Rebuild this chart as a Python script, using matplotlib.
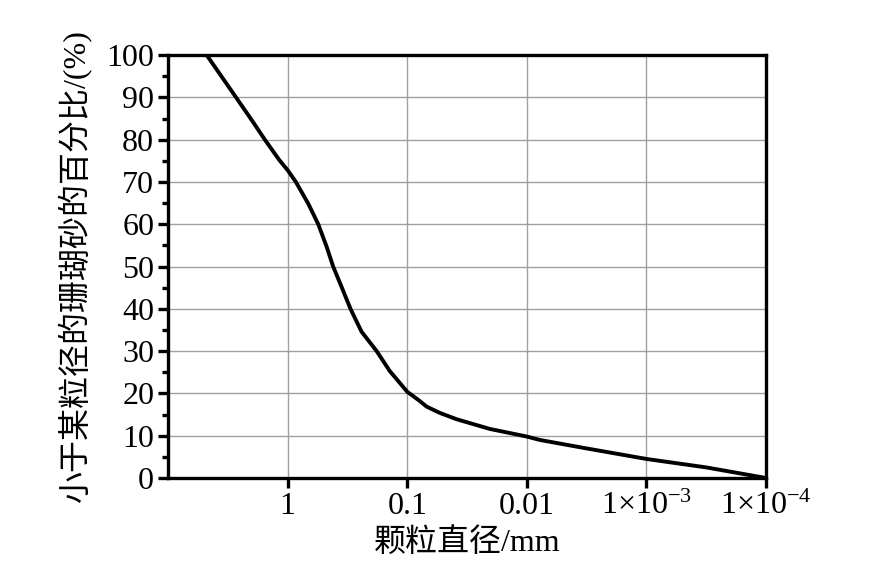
import matplotlib
matplotlib.use("Agg")
import matplotlib.pyplot as plt
from matplotlib.ticker import FixedLocator, MultipleLocator

plt.rcParams['font.family'] = ['Liberation Serif', 'Noto Sans CJK SC']
plt.rcParams['mathtext.fontset'] = 'custom'
plt.rcParams['mathtext.rm'] = 'Liberation Serif'
plt.rcParams['mathtext.it'] = 'Liberation Serif:italic'

diameter_mm = [4.75, 2.70, 1.96, 1.55, 1.175, 1.0, 0.853, 0.673, 0.554, 0.472,
               0.416, 0.354, 0.298, 0.241, 0.180, 0.140, 0.100, 0.0785, 0.069,
               0.0535, 0.0387, 0.0204, 0.010, 0.0078, 0.00318, 0.001, 0.000316, 0.0001]
percent_finer = [100, 90, 84.3, 80, 75.2, 72.8, 70, 64.9, 60, 54.7,
                 50, 45.2, 40, 34.6, 30, 25.3, 20.4, 18.2, 16.9,
                 15.4, 13.9, 11.6, 9.8, 9.0, 7.0, 4.5, 2.5, 0]

xtick_vals = [1, 0.1, 0.01, 0.001, 0.0001]
xtick_labels = ['1', '0.1', '0.01', r'1×10$^{-3}$', r'1×10$^{-4}$']
ytick_vals = list(range(0, 101, 10))

fig = plt.figure(figsize=(8.76, 5.62), dpi=100)
ax = fig.add_axes([0.1918, 0.1495, 0.6826, 0.7525])

ax.plot(diameter_mm, percent_finer, color='black', lw=2.8,
        solid_joinstyle='round', solid_capstyle='round')
ax.set_xscale('log')
ax.set_xlim(10, 0.0001)
ax.set_ylim(0, 100)

ax.xaxis.set_major_locator(FixedLocator(xtick_vals))
ax.set_xticklabels(xtick_labels)
ax.xaxis.set_minor_locator(FixedLocator([]))
ax.set_yticks(ytick_vals)
ax.yaxis.set_minor_locator(MultipleLocator(5))

ax.grid(True, which='major', color='#a0a0a0', lw=1.0)
ax.set_axisbelow(True)

for s in ax.spines.values():
    s.set_linewidth(2.4)

ax.tick_params(axis='both', which='major', direction='out', length=7, width=2.4,
               labelsize=23, pad=3, colors='black')
ax.tick_params(axis='y', which='minor', direction='out', length=4.5, width=2.4)

ax.set_xlabel('颗粒直径/mm', fontsize=23, labelpad=5)
ax.set_ylabel('小于某粒径的珊瑚砂的百分比/(%)', fontsize=23, labelpad=10)

fig.savefig('out.png', dpi=100)
